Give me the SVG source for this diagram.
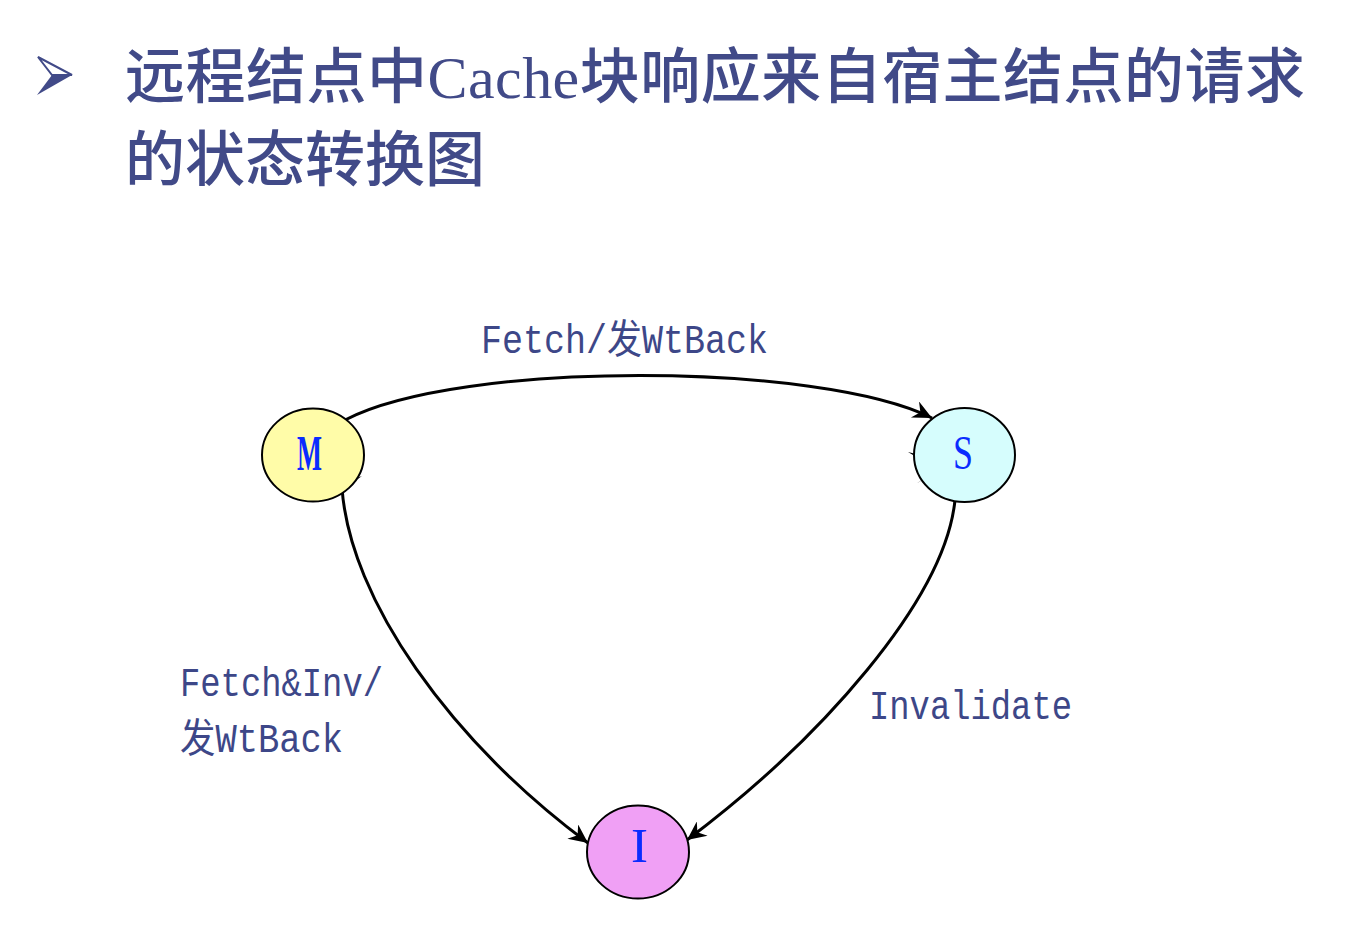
<svg xmlns="http://www.w3.org/2000/svg" width="1354" height="946" viewBox="0 0 1354 946">
<defs>
<style>
.title{font-family:"Noto Sans CJK SC","Noto Sans",sans-serif;font-size:60px;font-weight:500;fill:#414a88;}
.lat{font-family:"Liberation Serif",serif;font-size:60px;font-weight:normal;}
.lbl{font-family:"Liberation Mono","Noto Sans CJK SC",monospace;font-size:40px;fill:#3d4788;}
.node{stroke:#000;stroke-width:2;}
.nl{font-family:"Liberation Serif",serif;fill:#0a2cff;}
.edge{fill:none;stroke:#000;stroke-width:3;}
</style>
<marker id="ah" markerWidth="22" markerHeight="18" refX="20" refY="9" orient="auto" markerUnits="userSpaceOnUse">
<path d="M20,9 L1,0 L7,9 L1,18 Z" fill="#000"/>
</marker>
</defs>
<rect width="1354" height="946" fill="#fff"/>
<g id="title">
<polygon points="38,57 72,75 52,75" fill="#fff" stroke="#414a88" stroke-width="2" stroke-linejoin="miter"/>
<polygon points="52,75 72,75 37,95" fill="#414a88"/>
<text class="title" x="125" y="98" textLength="1180" lengthAdjust="spacing">远程结点中<tspan class="lat">Cache</tspan>块响应来自宿主结点的请求</text>
<text class="title" x="125" y="181">的状态转换图</text>
</g>
<g id="connectors">
<path class="edge" d="M345,420 C460,360 820,362 932,418" marker-end="url(#ah)"/>
<path class="edge" d="M342,488 C350,600 450,740 588,843" marker-end="url(#ah)"/>
<path class="edge" d="M955,500 C945,600 820,740 687,840" marker-end="url(#ah)"/>
<path d="M362,476 L348,486 L352,480 Z M918,458 L908,452 L916,454 Z M930,474 L916,484 L922,480 Z" fill="#000"/>
</g>
<g id="labels">
<text class="lbl" x="481" y="353" textLength="287" lengthAdjust="spacingAndGlyphs">Fetch/发WtBack</text>
<text class="lbl" x="180" y="696" textLength="203" lengthAdjust="spacingAndGlyphs">Fetch&amp;Inv/</text>
<text class="lbl" x="180" y="752" textLength="163" lengthAdjust="spacingAndGlyphs">发WtBack</text>
<text class="lbl" x="869" y="719" textLength="203" lengthAdjust="spacingAndGlyphs">Invalidate</text>
</g>
<g id="node-M">
<ellipse class="node" cx="313" cy="455" rx="51" ry="46.5" fill="#fffca8"/>
<text class="nl" x="297" y="470" font-size="50" font-weight="bold" textLength="25" lengthAdjust="spacingAndGlyphs">M</text>
</g>
<g id="node-S">
<ellipse class="node" cx="964.5" cy="455" rx="50.5" ry="47" fill="#d6fdfd"/>
<text class="nl" x="953" y="469" font-size="48" textLength="20" lengthAdjust="spacingAndGlyphs">S</text>
</g>
<g id="node-I">
<ellipse class="node" cx="638" cy="852" rx="51" ry="46.5" fill="#f0a0f5"/>
<text class="nl" x="631" y="862" font-size="48" textLength="17" lengthAdjust="spacingAndGlyphs">I</text>
</g>
</svg>
